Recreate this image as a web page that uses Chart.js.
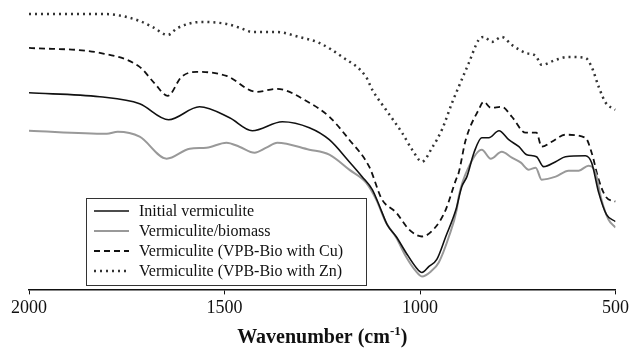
<!DOCTYPE html>
<html>
<head>
<meta charset="utf-8">
<script src="https://cdn.jsdelivr.net/npm/chart.js@4"></script>
<style>
  html, body { margin: 0; padding: 0; background: #fff; }
  #wrap { width: 632px; height: 349px; }
</style>
</head>
<body>
<div id="wrap"><canvas id="chart"></canvas></div>
<script>
// FTIR spectra (wavenumber, arbitrary transmittance)
const initialWn  = [2000,1819,1717,1643,1564,1487,1429,1352,1283,1232,1181,1148,1122,1100,1084,1061,1036,1010,995,977,957,934,908,893,880,862,842,824,798,773,747,727,702,684,653,628,577,561,543,523,500];
const initialVal = [197,193,186,170,183,172,159,168,162,150,128,113,100,80,65,53,37,22,17,23,30,53,80,103,113,137,152,152,159,150,143,135,133,123,128,133,134,127,97,75,68];

const biomassWn  = [2000,1801,1773,1717,1648,1589,1546,1495,1462,1423,1393,1365,1283,1232,1181,1138,1112,1087,1061,1036,1010,995,972,952,926,906,901,875,842,819,791,765,742,722,704,689,653,620,594,569,551,536,518,500];
const biomassVal = [159,156,158,153,131,141,142,147,143,137,142,147,140,135,120,107,90,67,52,33,18,13,18,27,53,80,93,123,140,131,138,132,127,120,122,110,113,119,119,124,117,90,70,62];

const cuWn  = [2000,1819,1717,1680,1645,1610,1571,1495,1418,1367,1283,1232,1181,1130,1097,1061,1028,995,959,934,908,901,883,850,837,819,791,765,730,702,689,663,628,577,561,543,525,500];
const cuVal = [242,237,223,207,194,213,218,214,198,201,187,173,150,123,90,77,60,53,63,80,110,117,150,180,188,182,183,173,157,157,143,148,155,152,137,110,93,88];

const znWn  = [2000,1819,1776,1717,1684,1645,1620,1559,1495,1460,1429,1367,1310,1258,1199,1138,1122,1087,1046,1020,995,969,944,918,901,875,850,837,816,791,765,730,704,689,653,620,577,561,543,525,500];
const znVal = [276,276,275,269,263,255,262,268,266,262,258,258,253,247,233,213,200,180,157,140,128,142,160,187,203,227,250,253,248,253,245,237,234,225,230,233,232,223,203,187,180];

const seriesNames = [
  'Initial vermiculite',
  'Vermiculite/biomass',
  'Vermiculite (VPB-Bio with Cu)',
  'Vermiculite (VPB-Bio with Zn)'
];
const xTicks = [2000, 1500, 1000, 500];
const xTitle = ['Wavenumber (cm', '-1', ')'];

const toPoints = (xs, ys) => xs.map((x, i) => ({ x: x, y: ys[i] }));

// legend drawn inside the plot, like the original figure
const boxLegend = {
  id: 'boxLegend',
  afterDraw(chart) {
    const ctx = chart.ctx;
    const area = chart.chartArea;
    const left = area.left + 57, top = 198, w = 280, h = 87;
    ctx.save();
    ctx.fillStyle = '#fff';
    ctx.fillRect(left, top, w, h);
    ctx.strokeStyle = '#333';
    ctx.lineWidth = 1;
    ctx.strokeRect(left + 0.5, top + 0.5, w, h);
    ctx.font = '16px "Liberation Serif"';
    ctx.textBaseline = 'middle';
    chart.data.datasets.forEach((ds, i) => {
      const y = top + 13 + i * 20;
      ctx.beginPath();
      ctx.strokeStyle = ds.borderColor;
      ctx.lineWidth = ds.borderWidth;
      ctx.setLineDash(ds.borderDash || []);
      ctx.moveTo(left + 8, y);
      ctx.lineTo(left + 43, y);
      ctx.stroke();
      ctx.setLineDash([]);
      ctx.fillStyle = '#111';
      ctx.fillText(ds.label, left + 53, y + 1);
    });
    ctx.restore();
  }
};

// axis title with a real superscript
const supTitle = {
  id: 'supTitle',
  afterDraw(chart) {
    const ctx = chart.ctx;
    const area = chart.chartArea;
    const big = 'bold 20px "Liberation Serif"';
    const small = 'bold 13px "Liberation Serif"';
    ctx.save();
    ctx.fillStyle = '#111';
    ctx.textBaseline = 'alphabetic';
    ctx.font = big;
    const w0 = ctx.measureText(xTitle[0]).width;
    const w2 = ctx.measureText(xTitle[2]).width;
    ctx.font = small;
    const w1 = ctx.measureText(xTitle[1]).width;
    let x = (area.left + area.right) / 2 - (w0 + w1 + w2) / 2;
    const base = 343;
    ctx.font = big;
    ctx.fillText(xTitle[0], x, base);
    x += w0;
    ctx.font = small;
    ctx.fillText(xTitle[1], x, base - 8);
    x += w1;
    ctx.font = big;
    ctx.fillText(xTitle[2], x, base);
    ctx.restore();
  }
};

new Chart(document.getElementById('chart'), {
  type: 'line',
  data: {
    datasets: [
      { label: seriesNames[0], data: toPoints(initialWn, initialVal), borderColor: '#111', borderWidth: 1.6 },
      { label: seriesNames[1], data: toPoints(biomassWn, biomassVal), borderColor: '#999', borderWidth: 2 },
      { label: seriesNames[2], data: toPoints(cuWn, cuVal), borderColor: '#111', borderWidth: 1.8, borderDash: [6, 4] },
      { label: seriesNames[3], data: toPoints(znWn, znVal), borderColor: '#333', borderWidth: 2.5, borderDash: [2, 4] }
    ]
  },
  options: {
    responsive: true,
    maintainAspectRatio: false,
    animation: false,
    elements: {
      point: { radius: 0 },
      line: { cubicInterpolationMode: 'monotone', fill: false }
    },
    layout: { padding: { left: 29, right: 12, top: 0, bottom: 0 } },
    plugins: {
      legend: { display: false },
      tooltip: { enabled: false }
    },
    scales: {
      x: {
        type: 'linear',
        reverse: true,
        min: 500,
        max: 2000,
        afterBuildTicks: (axis) => { axis.ticks = xTicks.map(v => ({ value: v })); },
        border: { display: true, color: '#111', width: 1.5 },
        grid: { display: true, drawOnChartArea: false, drawTicks: true, tickLength: 5, color: '#111' },
        ticks: {
          color: '#111',
          font: { family: 'Liberation Serif', size: 18 },
          padding: 3,
          maxRotation: 0,
          callback: (v) => String(v)
        },
        title: {
          // space is kept here, the text itself is drawn by supTitle
          display: true,
          text: xTitle.join(''),
          color: 'rgba(0,0,0,0)',
          font: { family: 'Liberation Serif', size: 20, weight: 'bold' },
          padding: { top: 3, bottom: 0 }
        }
      },
      y: {
        display: false,
        min: 0,
        max: 290
      }
    }
  },
  plugins: [boxLegend, supTitle]
});
</script>
</body>
</html>
